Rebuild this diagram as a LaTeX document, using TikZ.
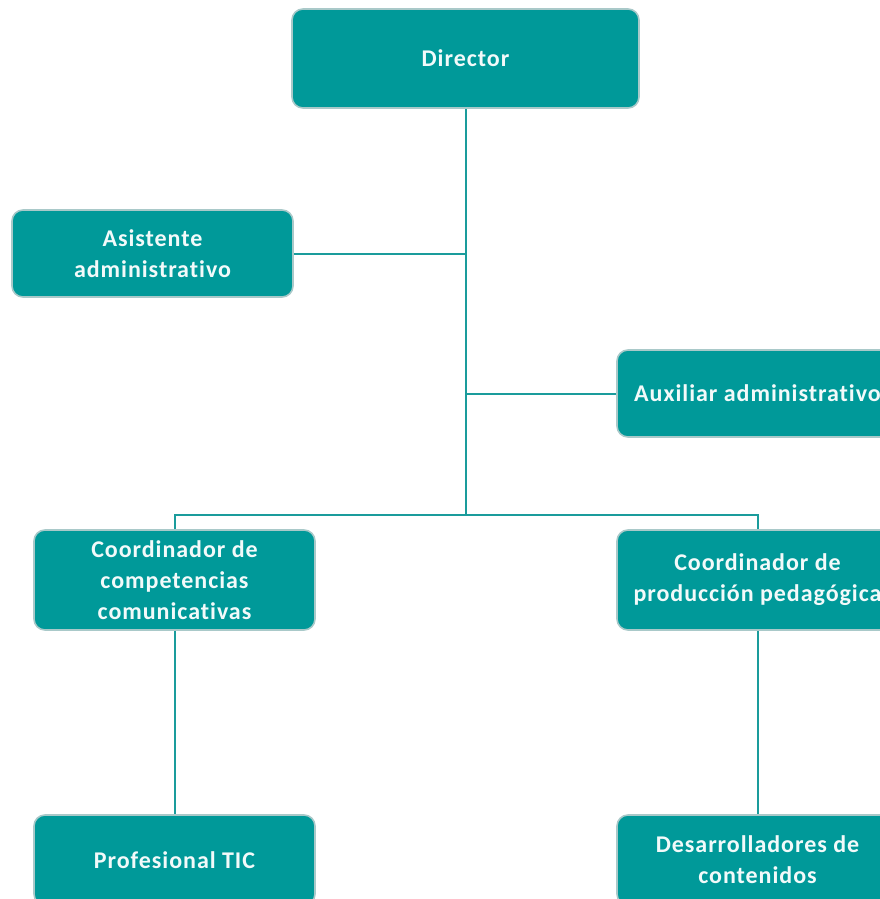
\documentclass[tikz,border=0pt]{standalone}
\usepackage{fontspec}
\setmainfont[Ligatures=NoCommon]{Carlito}
\usetikzlibrary{positioning, calc}
\definecolor{orgTeal}{HTML}{009999}
\definecolor{orgLine}{HTML}{1A9C9C}
\definecolor{orgBorder}{HTML}{A9C9C9}
\definecolor{orgText}{HTML}{F2FAFA}
\tikzset{
  boxOrg/.style={rectangle, rounded corners=11pt, draw=orgBorder, line width=1.6pt,
                 fill=orgTeal, text=orgText, align=center,
                 font=\fontsize{24}{31}\selectfont\bfseries\addfontfeature{LetterSpace=4},
                 inner sep=0pt, minimum width=281pt, minimum height=87pt},
  linkOrg/.style={draw=orgLine, line width=2pt},
}
\begin{document}
\begin{tikzpicture}[x=1pt, y=-1pt]
    \useasboundingbox (0,0) rectangle (880,899);
    \node[boxOrg, minimum width=347pt, minimum height=99pt] (director) at (465.5,58.5) {Director};
    \node[boxOrg] (asistente) at (152.5,253.5) {Asistente\\administrativo};
    \node[boxOrg] (auxiliar) at (757.5,393.5) {Auxiliar administrativo};
    \node[boxOrg, minimum height=100pt] (coordcom) at (174.5,580) {Coordinador de\\competencias\\comunicativas};
    \node[boxOrg, minimum height=100pt] (coordprod) at (757.5,580) {Coordinador de\\producción pedagógica};
    \node[boxOrg, minimum height=90pt] (profesional) at (174.5,860) {Profesional TIC};
    \node[boxOrg, minimum height=90pt] (desarrollo) at (757.5,860) {Desarrolladores de\\contenidos};
    \coordinate (junction) at (465.5,515);
    % lineas de mando
    \draw[linkOrg] (director.south) -- (junction);
    \draw[linkOrg] (asistente.east) -- (asistente.east -| junction);
    \draw[linkOrg] (auxiliar.west) -- (auxiliar.west -| junction);
    \draw[linkOrg] (coordcom.north) |- (junction) -| (coordprod.north);
    \draw[linkOrg] (coordcom.south) -- (profesional.north);
    \draw[linkOrg] (coordprod.south) -- (desarrollo.north);
\end{tikzpicture}
\end{document}
